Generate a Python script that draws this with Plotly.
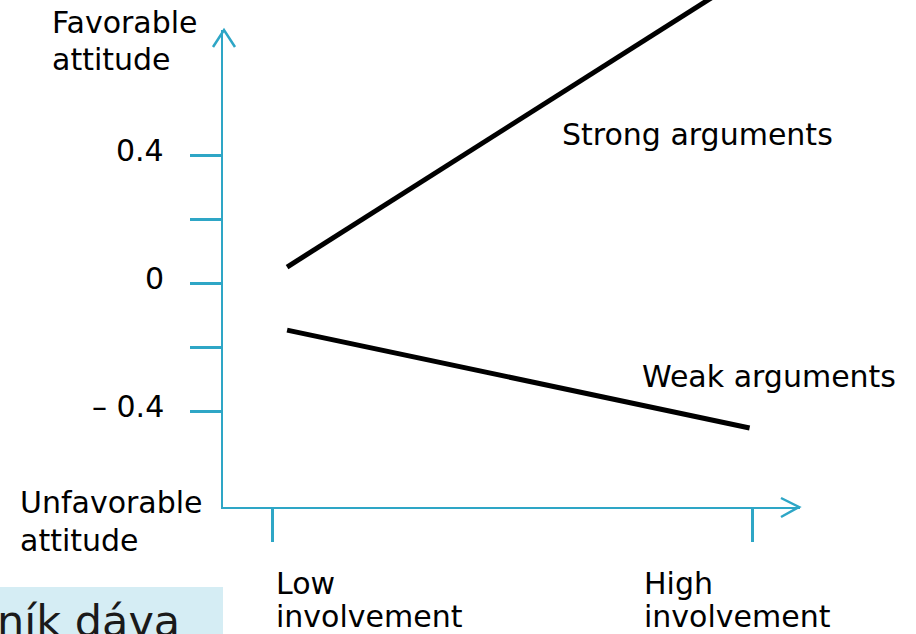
import plotly.graph_objects as go

# ---------------- data ----------------
INVOLVEMENT = [0.03, 0.995]            # low -> high involvement (x)
STRONG_ARGS = [0.052, 0.969]           # favorable attitude, strong arguments
WEAK_ARGS = [-0.145, -0.451]           # favorable attitude, weak arguments
Y_TICK_VALS = [0.4, 0.2, 0.0, -0.2, -0.4]
Y_TICK_TEXT = ["0.4", "", "0", "", "\u2013 0.4"]
X_TICK_VALS = [0.0, 1.0]
X_TICK_TEXT = ["Low<br>involvement", "High<br>involvement"]
SERIES_LABELS = ["Strong arguments", "Weak arguments"]
Y_END_LABELS = ["Favorable<br>attitude", "Unfavorable<br>attitude"]

W, H = 916, 634
AXIS_C = "#2EA6C6"
FONT = "DejaVu Sans"
FS = 30

# pixel <-> data mapping helpers (layout only)
X0PX, XSC = 272.7, 479.3
Y0PX, YSC = 283.7, 320.0
def xv(px): return (px - X0PX) / XSC
def yv(py): return (Y0PX - py) / YSC
def pxp(px): return px / W
def pyp(py): return 1 - py / H

fig = go.Figure()

fig.add_trace(go.Scatter(x=INVOLVEMENT, y=STRONG_ARGS, mode="lines",
                         line=dict(color="black", width=5), hoverinfo="skip",
                         showlegend=False))
fig.add_trace(go.Scatter(x=INVOLVEMENT, y=WEAK_ARGS, mode="lines",
                         line=dict(color="black", width=5), hoverinfo="skip",
                         showlegend=False))
fig.add_trace(go.Scatter(x=[X_TICK_VALS[0]], y=[Y_TICK_VALS[2]], xaxis="x2", yaxis="y2",
                         mode="markers", marker=dict(opacity=0), hoverinfo="skip",
                         showlegend=False))

AX_L, AX_R, AX_B, AX_T = 223, 800, 507, 30

fig.update_layout(
    width=W, height=H,
    margin=dict(l=0, r=0, t=0, b=0),
    paper_bgcolor="white", plot_bgcolor="rgba(0,0,0,0)",
    xaxis=dict(range=[xv(0), xv(W)], visible=False, domain=[0, 1]),
    yaxis=dict(range=[yv(H), yv(0)], visible=False, domain=[0, 1]),
    xaxis2=dict(domain=[pxp(AX_L), pxp(AX_R)], range=[xv(AX_L), xv(AX_R)],
                anchor="y2", showline=True, linecolor=AXIS_C, linewidth=2,
                ticks="outside", ticklen=33, tickwidth=3, tickcolor=AXIS_C,
                tickvals=X_TICK_VALS, ticktext=["", ""], showgrid=False,
                zeroline=False),
    yaxis2=dict(domain=[pyp(AX_B), pyp(AX_T)], range=[yv(AX_B), yv(AX_T)],
                anchor="x2", showline=True, linecolor=AXIS_C, linewidth=2,
                ticks="outside", ticklen=31, tickwidth=3, tickcolor=AXIS_C,
                tickvals=Y_TICK_VALS, ticktext=[""] * len(Y_TICK_VALS), showgrid=False,
                zeroline=False),
    showlegend=False,
)

shapes = []
def chevron(points):
    d = "M " + " L ".join(f"{pxp(x)},{pyp(y)}" for x, y in points)
    return dict(type="path", path=d, xref="paper", yref="paper",
                line=dict(color=AXIS_C, width=2.5))
shapes.append(chevron([(213, 47), (224, 30), (235, 47)]))
shapes.append(chevron([(781, 498), (799, 507), (781, 517)]))
shapes.append(dict(type="rect", xref="paper", yref="paper",
                   x0=0, x1=pxp(223), y0=0, y1=pyp(587),
                   fillcolor="#D5EDF4", line=dict(width=0), layer="below"))
fig.update_layout(shapes=shapes)

ann = []
def txt(s, px, py, size=FS, color="black", anchor="left"):
    ann.append(dict(text=s, x=pxp(px), y=pyp(py), xref="paper", yref="paper",
                    xanchor=anchor, yanchor="middle", showarrow=False,
                    font=dict(family=FONT, size=size, color=color)))

# y tick labels (sit slightly above their ticks, as in the original)
for v, t in zip(Y_TICK_VALS, Y_TICK_TEXT):
    if t:
        ann.append(dict(text=t, x=pxp(166), y=v, xref="paper", yref="y2",
                        xanchor="right", yanchor="middle", yshift=5, showarrow=False,
                        font=dict(family=FONT, size=FS, color="black")))

fav, unfav = [s.split("<br>") for s in Y_END_LABELS]
txt(fav[0], 50, 22)
txt(fav[1], 50, 60)
txt(unfav[0], 18, 502)
txt(unfav[1], 18, 540)
low = X_TICK_TEXT[0].split("<br>")
high = X_TICK_TEXT[1].split("<br>")
txt(low[0], 274, 583)
txt(low[1], 274, 616)
txt(high[0], 642, 583)
txt(high[1], 642, 616)
txt(SERIES_LABELS[0], 560, 134)
txt(SERIES_LABELS[1], 640, 376)
txt("ník dáva", -5, 621, size=43, color="#1a1a1a")
fig.update_layout(annotations=ann)

fig.write_html("out.html", post_script="document.body.style.margin='0';",
               config={"displayModeBar": False})
